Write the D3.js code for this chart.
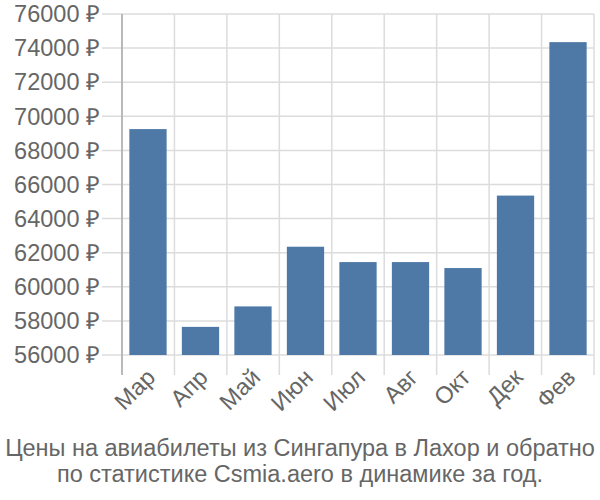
<!DOCTYPE html>
<html><head><meta charset="utf-8">
<script src="https://cdn.jsdelivr.net/npm/d3@7"></script>
<style>body{margin:0;background:#fff}text{font-family:"Liberation Sans",Arial,sans-serif}</style>
</head><body><svg id="c" width="600" height="500"></svg>
<script>
const categories = ["Мар","Апр","Май","Июн","Июл","Авг","Окт","Дек","Фев"];
const values = [69250, 57650, 58850, 62350, 61450, 61450, 61100, 65350, 74350];
const yTicks = [56000,58000,60000,62000,64000,66000,68000,70000,72000,74000,76000];
const titleLines = ["Цены на авиабилеты из Сингапура в Лахор и обратно","по статистике Csmia.aero в динамике за год."];

const svg = d3.select("#c");
const L = 122, R = 594, T = 14, B = 355;
const x = d3.scaleBand().domain(categories).range([L, R]).paddingInner(0.29).paddingOuter(0.14);
const y = d3.scaleLinear().domain([56000, 76000]).range([B, T]);
const bw = (R - L) / categories.length;
const fs = 23.5;

svg.append("g").selectAll("line").data(yTicks).join("line")
  .attr("x1", L - 20).attr("x2", R).attr("y1", d => y(d)).attr("y2", d => y(d))
  .attr("stroke", "#dcdcdc").attr("stroke-width", 1.5);
svg.append("g").selectAll("line").data(d3.range(categories.length + 1)).join("line")
  .attr("x1", i => L + i * bw).attr("x2", i => L + i * bw).attr("y1", T).attr("y2", B + 20)
  .attr("stroke", "#dcdcdc").attr("stroke-width", 1.5);
svg.append("line").attr("x1", L).attr("x2", L).attr("y1", T).attr("y2", B + 20)
  .attr("stroke", "#aaa").attr("stroke-width", 1.5);

svg.append("g").selectAll("rect").data(values).join("rect")
  .attr("x", (d, i) => x(categories[i])).attr("width", x.bandwidth())
  .attr("y", d => y(d)).attr("height", d => B - y(d))
  .attr("fill", "#4e79a7");

svg.append("g").selectAll("text").data(yTicks).join("text")
  .attr("x", 100).attr("y", d => y(d)).attr("dy", "0.35em").attr("text-anchor", "end")
  .attr("font-size", fs).attr("fill", "#666").text(d => d + " ₽");

svg.append("g").selectAll("text").data(categories).join("text")
  .attr("transform", d => `translate(${x(d) + x.bandwidth() / 2 + 3},${B + 18}) rotate(-45)`)
  .attr("text-anchor", "end").attr("dy", "0.35em")
  .attr("font-size", fs).attr("fill", "#666").text(d => d);

svg.append("g").selectAll("text").data(titleLines).join("text")
  .attr("x", 300).attr("y", (d, i) => 456 + i * 26).attr("text-anchor", "middle")
  .attr("font-size", fs).attr("fill", "#666").text(d => d);
</script></body></html>
